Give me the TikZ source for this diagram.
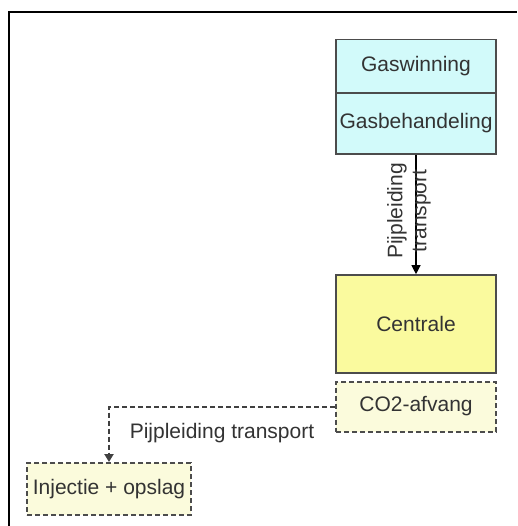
\documentclass[tikz,border=0pt]{standalone}
\usepackage{fontspec}
\setmainfont{Liberation Sans}
\usetikzlibrary{arrows.meta}
\begin{document}
\begin{tikzpicture}[x=1pt,y=1pt,
  every node/.style={font=\fontsize{21}{24}\selectfont, text=black!80},
  cell/.style={draw=black!70, line width=1.6pt, minimum width=160pt, inner sep=0pt},
  dashcell/.style={draw=black!70, line width=2pt, dash pattern=on 5pt off 3pt, fill=capfill, inner sep=0pt},
  flow/.style={draw=black, line width=1.2pt, -{Triangle[width=9pt,length=9pt]}},
  dashflow/.style={draw=black!75, line width=2pt, dash pattern=on 5pt off 3pt, -{Triangle[width=9pt,length=8pt]}}
]
\definecolor{gasfill}{HTML}{D2FAFA}
\definecolor{plantfill}{HTML}{FAFA9E}
\definecolor{capfill}{HTML}{FBFBDC}
\useasboundingbox (0,0) rectangle (517,-526);
\fill[white] (0,0) rectangle (517,-526);
% outer frame, open towards right and bottom
\draw[line width=2.2pt] (9,-526) -- (9,-12) -- (517,-12);

% gas production chain
\node[cell, fill=gasfill, minimum height=53pt] (gw) at (416,-66) {Gaswinning};
\node[cell, fill=gasfill, minimum height=61pt] (gb) at (416,-123.5) {Gasbehandeling};
\node[cell, fill=plantfill, minimum height=98pt] (cen) at (416,-324) {Centrale};
\node[dashcell, minimum width=160pt, minimum height=50pt] (co2) at (416,-406.5) {CO2-afvang};
\node[dashcell, minimum width=164pt, minimum height=52pt] (inj) at (109,-489) {Injectie + opslag};

% pipeline from treatment to plant
\draw[flow] (gb.south) -- (cen.north);
\node[rotate=90, align=center, inner sep=0pt] (lab1) at (409,-211) {Pijpleiding\\transport};

% CO2 pipeline to storage
\coordinate (bend) at (inj.north |- co2.west);
\draw[dashflow] (co2.west) -- (bend) -- (inj.north);
\node[inner sep=0pt] (lab2) at (222,-433) {Pijpleiding transport};
\end{tikzpicture}
\end{document}
